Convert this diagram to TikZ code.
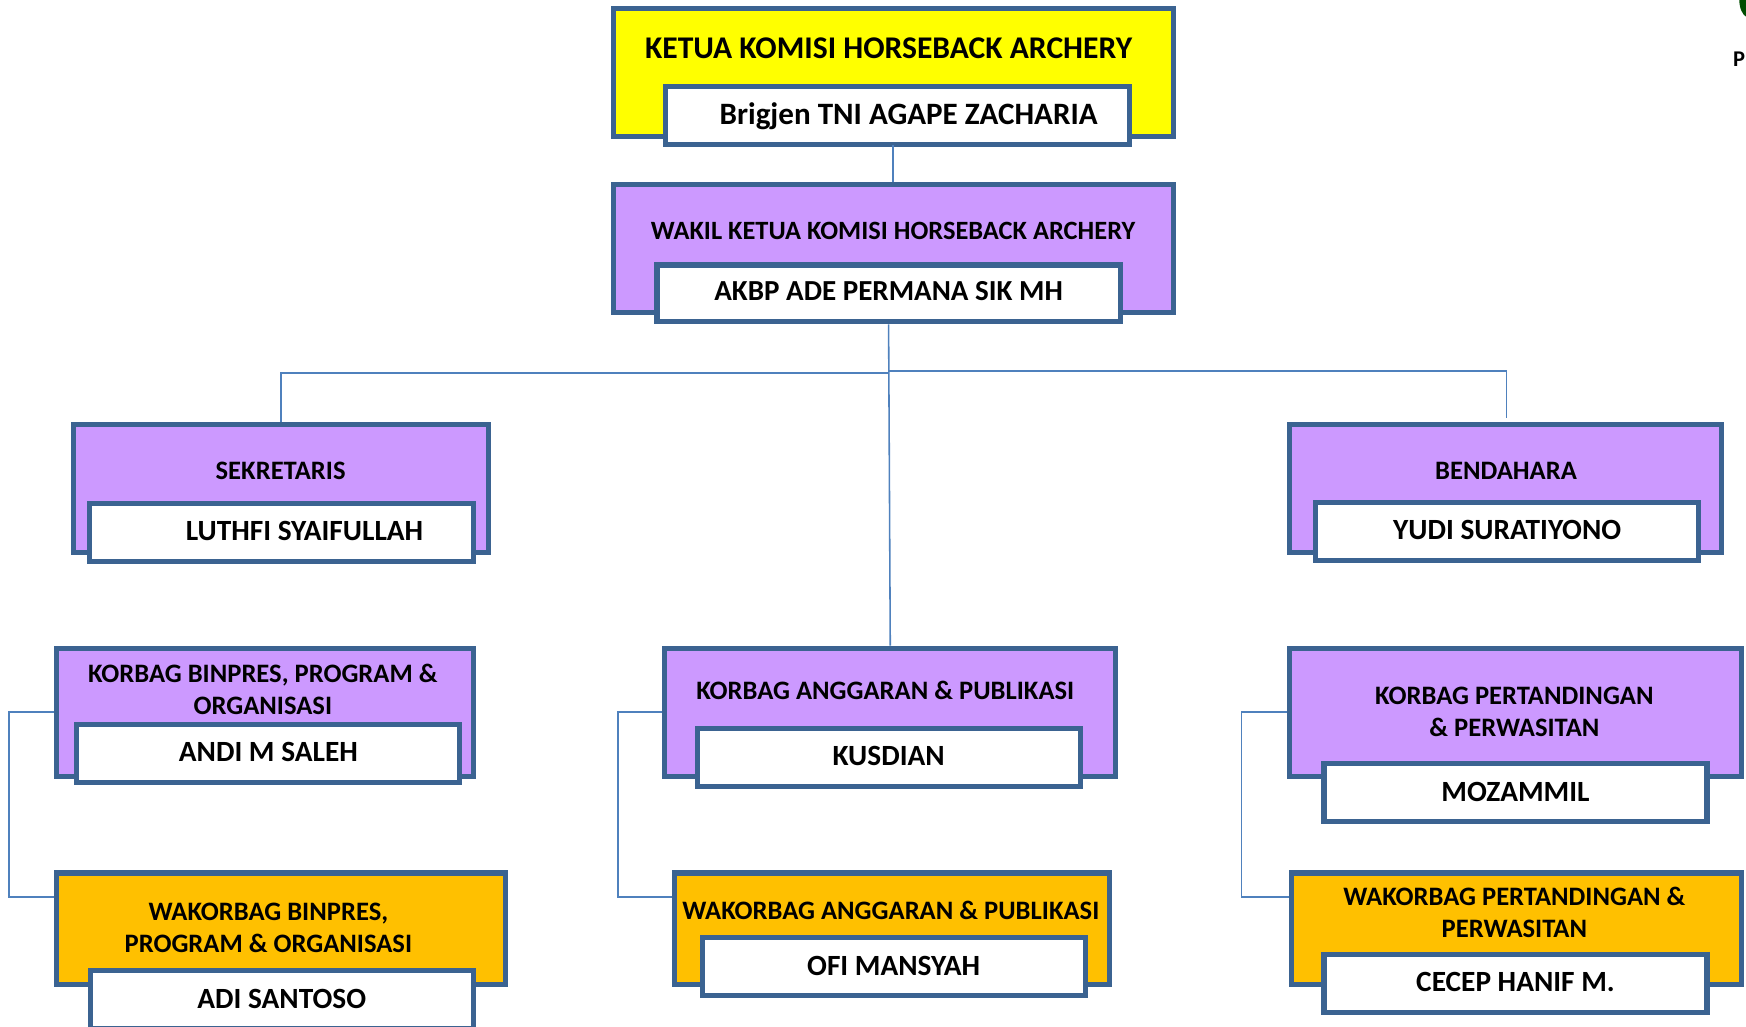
\documentclass[tikz,border=0pt]{standalone}
\usepackage{fontspec}
\setmainfont{Carlito}
\usepackage{tikz}
\usepackage{xcolor}
\definecolor{garis}{HTML}{3B6391}
\definecolor{konektor}{HTML}{4F81BD}
\definecolor{kuning}{HTML}{FFFF00}
\definecolor{ungu}{HTML}{CC99FF}
\definecolor{jingga}{HTML}{FFC000}
\tikzstyle{kotak}	=[rectangle,draw=garis,line width=2.6pt,inner sep=0pt]
\tikzstyle{ketua}	=[kotak,fill=kuning]
\tikzstyle{korbag}	=[kotak,fill=ungu]
\tikzstyle{wakorbag}	=[kotak,fill=jingga]
\tikzstyle{nama}	=[kotak,fill=white,font=\bfseries\fontsize{15}{17}\selectfont,text depth=1pt]
\tikzstyle{judul}	=[inner sep=0pt,align=center,font=\bfseries\fontsize{13.6}{16.3}\selectfont]
\tikzstyle{edge1} 	= [draw=konektor,line width=0.8pt,-]

\begin{document}
\begin{tikzpicture}[x=0.02cm,y=-0.02cm]
	\useasboundingbox (0,0) rectangle (1568,922);

	%%%%% Boxes
	\node[ketua,minimum width=10.06cm,minimum height=2.3cm] (ketua) at (802.5,65.5) {};
	\foreach \pos/\name/\w in {{(802.5,223.5)/wakil/503}, {(252.5,439)/sekretaris/373}, {(1352,439)/bendahara/388}, {(238,639.5)/korbagA/374}, {(799.5,639.5)/korbagB/405}, {(1361,639.5)/korbagC/406}}
	\node[korbag,minimum width=\w*0.02cm,minimum height=2.3cm] (\name) at \pos {};

	\foreach \pos/\name/\w in {{(252.5,834)/wakorbagA/403}, {(801,834)/wakorbagB/390}, {(1362,834)/wakorbagC/404}}
	\node[wakorbag,minimum width=\w*0.02cm,minimum height=2cm] (\name) at \pos {};

	%%%%% Titles
	\node[judul,font=\bfseries\fontsize{16.15}{18}\selectfont] (tketua) at (798,43) {KETUA KOMISI HORSEBACK ARCHERY};
	\node[judul,font=\bfseries\fontsize{13.5}{17}\selectfont] (twakil) at (802,207) {WAKIL KETUA KOMISI HORSEBACK ARCHERY};
	\foreach \pos/\name/\isi in {{(252,423)/tsekretaris/SEKRETARIS}, {(1352.5,423)/tbendahara/BENDAHARA}, {(236,619)/tkorbagA/{KORBAG BINPRES, PROGRAM \&\\ORGANISASI}}, {(795,620)/tkorbagB/{KORBAG ANGGARAN \& PUBLIKASI}}, {(1360,639)/tkorbagC/{KORBAG PERTANDINGAN\\\& PERWASITAN}}, {(241,833)/twakorbagA/{WAKORBAG BINPRES,\\PROGRAM \& ORGANISASI}}, {(800,818)/twakorbagB/{WAKORBAG ANGGARAN \& PUBLIKASI}}, {(1360,819)/twakorbagC/{WAKORBAG PERTANDINGAN \&\\PERWASITAN}}}
	\node[judul] (\name) at \pos {\isi};

	%%%%% Names
	\node[nama,minimum width=8.32cm,minimum height=1.04cm,font=\bfseries\fontsize{15.9}{18}\selectfont,text depth=2pt] (nketua) at (806,104) {\hspace*{0.4cm}Brigjen TNI AGAPE ZACHARIA};
	\node[nama,minimum width=8.32cm,minimum height=1.02cm,font=\bfseries\fontsize{14.85}{17}\selectfont,text depth=2pt] (nwakil) at (798,263.5) {AKBP ADE PERMANA SIK MH};
	\node[nama,minimum width=6.9cm,minimum height=1.04cm] (nsekretaris) at (252.5,478) {\hspace*{0.84cm}LUTHFI SYAIFULLAH};
	\foreach \pos/\name/\isi in {{(1353.5,477)/nbendahara/YUDI SURATIYONO}, {(241,676.5)/nkorbagA/ANDI M SALEH}, {(798,680)/nkorbagB/KUSDIAN}, {(1361,712)/nkorbagC/MOZAMMIL}, {(253,897.5)/nwakorbagA/ADI SANTOSO}, {(802.5,868)/nwakorbagB/OFI MANSYAH}, {(1361,883)/nwakorbagC/CECEP HANIF M.}}
	\node[nama,minimum width=6.88cm,minimum height=1.04cm] (\name) at \pos {\isi};

	%%%% Connectors
	\coordinate (simpulA) at (798,335);
	\coordinate (simpulB) at (798,333);
	\coordinate (ujung) at (1353,375);
	\coordinate (atas) at (802,130);
	\path[edge1] (atas) -- (wakil.north -| atas);
	\path[edge1] (nwakil.south) -- (korbagB.north);
	\path[edge1] (sekretaris.north) |- (simpulA);
	\path[edge1] (simpulB) -| (ujung);

	\foreach \source/\xpos/\dest in {korbagA/8/wakorbagA, korbagB/555/wakorbagB, korbagC/1115/wakorbagC}
	\path[edge1] (\source.west) -- (\xpos,639.5) -- (\xpos,805.5) -- (\dest.west |- 0,805.5);

	%%%% Corner
	\fill[green!30!black] (1568,0) -- (1562,0) .. controls (1562,8) and (1565,13) .. (1568,15) -- cycle;
	\node[inner sep=0pt,anchor=west,font=\bfseries\fontsize{11.5}{13}\selectfont] (pojok) at (1556,53) {P};
\end{tikzpicture}
\end{document}
